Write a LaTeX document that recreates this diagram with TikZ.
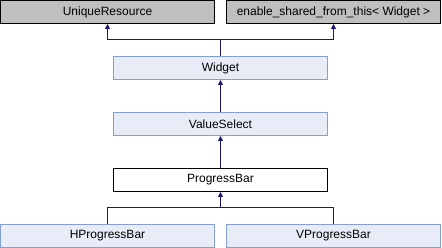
\documentclass[tikz,border=0pt]{standalone}
\usepackage{fontspec}
\setmainfont{Liberation Sans}
\usetikzlibrary{arrows.meta}
\definecolor{edgeblue}{HTML}{191970}
\definecolor{grayfill}{HTML}{BFBFBF}
\definecolor{bluefill}{HTML}{E8ECF6}
\definecolor{blueborder}{HTML}{84A0D0}
\begin{document}
\begin{tikzpicture}[x=1pt,y=-1pt,
  box/.style={rectangle,minimum width=214pt,minimum height=23pt,inner sep=0pt,line width=1pt,font=\fontsize{12}{14}\selectfont},
  ext/.style={box,draw=black,fill=grayfill},
  cls/.style={box,draw=blueborder,fill=bluefill},
  cur/.style={box,draw=black,fill=white},
  arr/.style={draw=edgeblue,line width=1pt,-{Triangle[length=5pt,width=5pt]}},
  ln/.style={draw=edgeblue,line width=1pt}]
\useasboundingbox (0,0) rectangle (442,248);
\node[ext] (UR) at (107.5,12) {UniqueResource};
\node[ext] (ESF) at (333.5,12) {enable\_shared\_from\_this< Widget >};
\node[cls] (W) at (220.5,68) {Widget};
\node[cls] (VS) at (220.5,124) {ValueSelect};
\node[cur] (PB) at (220.5,180) {ProgressBar};
\node[cls] (HPB) at (107.5,236) {HProgressBar};
\node[cls] (VPB) at (333.5,236) {VProgressBar};
\coordinate (j1) at (220.5,40);
\coordinate (j2) at (220.5,208);
\draw[arr] (W.north) -- (j1) -| (UR.south);
\draw[arr] (j1) -| (ESF.south);
\draw[arr] (VS.north) -- (W.south);
\draw[arr] (PB.north) -- (VS.south);
\draw[arr] (HPB.north) |- (j2) -- (PB.south);
\draw[ln] (VPB.north) |- (j2);
\end{tikzpicture}
\end{document}
